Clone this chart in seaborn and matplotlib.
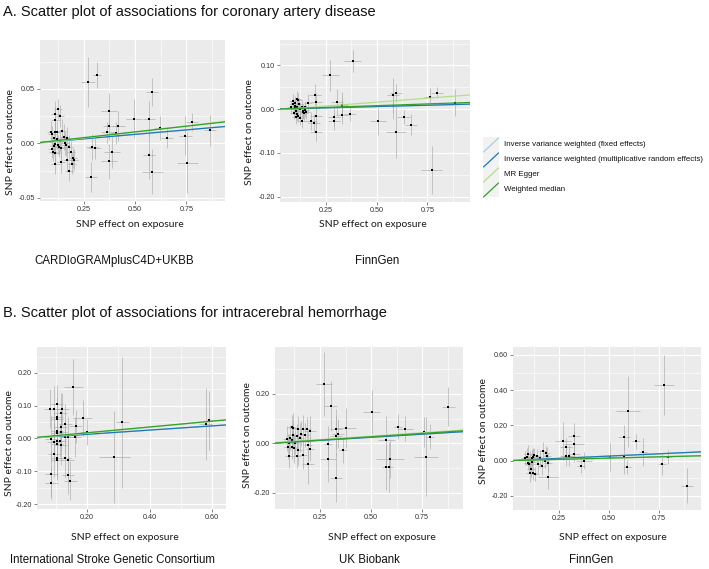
import matplotlib
matplotlib.use("Agg")
import matplotlib.pyplot as plt
from matplotlib.ticker import FormatStrFormatter, FixedLocator
from matplotlib.lines import Line2D
from matplotlib.patches import Rectangle
import pandas as pd
import seaborn as sns

# SNP rows: (exposure beta, outcome beta, exposure se, outcome se)
a1_snps = [
    (0.315, 0.063, 0.020, 0.012), (0.271, 0.056, 0.035, 0.023), (0.374, 0.030, 0.040, 0.016),
    (0.375, 0.0155, 0.030, 0.012), (0.366, 0.010, 0.030, 0.010), (0.419, 0.016, 0.030, 0.014),
    (0.406, 0.0096, 0.030, 0.010), (0.387, -0.008, 0.040, 0.015), (0.374, -0.0165, 0.040, 0.016),
    (0.290, -0.0035, 0.030, 0.012), (0.303, -0.0045, 0.030, 0.010), (0.287, -0.031, 0.030, 0.014),
    (0.495, 0.0227, 0.040, 0.018), (0.568, 0.0227, 0.030, 0.016), (0.584, 0.047, 0.030, 0.013),
    (0.568, -0.011, 0.030, 0.022), (0.584, -0.026, 0.050, 0.021), (0.623, 0.0143, 0.030, 0.011),
    (0.656, 0.005, 0.030, 0.009), (0.745, 0.007, 0.030, 0.018), (0.777, 0.0196, 0.030, 0.008),
    (0.755, -0.018, 0.050, 0.028), (0.866, 0.012, 0.030, 0.014),
    (0.092, 0.0106, 0.020, 0.010), (0.113, 0.0214, 0.020, 0.012), (0.113, 0.027, 0.020, 0.012),
    (0.124, 0.0317, 0.020, 0.009), (0.137, 0.0252, 0.020, 0.010), (0.097, 0.0084, 0.020, 0.008),
    (0.110, 0.0106, 0.020, 0.009), (0.121, 0.0106, 0.020, 0.010), (0.145, 0.0115, 0.020, 0.011),
    (0.105, 0.0047, 0.020, 0.008), (0.121, 0.0037, 0.020, 0.009), (0.134, 0.0022, 0.020, 0.010),
    (0.153, 0.0062, 0.020, 0.012), (0.169, 0.005, 0.020, 0.010), (0.161, 0.0006, 0.020, 0.011),
    (0.113, -0.0003, 0.020, 0.009), (0.097, -0.0056, 0.020, 0.008), (0.102, -0.0075, 0.020, 0.009),
    (0.113, -0.0093, 0.020, 0.010), (0.126, -0.0012, 0.020, 0.009), (0.140, -0.004, 0.020, 0.010),
    (0.165, -0.0019, 0.020, 0.010), (0.177, -0.0037, 0.020, 0.011), (0.189, -0.0081, 0.020, 0.010),
    (0.198, -0.0134, 0.020, 0.009), (0.205, -0.0149, 0.020, 0.010), (0.169, -0.0149, 0.020, 0.011),
    (0.140, -0.0174, 0.020, 0.010), (0.113, -0.019, 0.020, 0.009), (0.181, -0.0258, 0.020, 0.009),
    (0.194, -0.0186, 0.020, 0.010), (0.129, -0.0037, 0.020, 0.009), (0.105, -0.0025, 0.020, 0.008),
]

a2_snps = [
    (0.382, 0.111, 0.040, 0.025), (0.273, 0.077, 0.040, 0.035), (0.304, 0.017, 0.030, 0.030),
    (0.291, -0.018, 0.030, 0.020), (0.291, -0.028, 0.030, 0.020), (0.331, 0.009, 0.030, 0.030),
    (0.331, 0.005, 0.030, 0.020), (0.331, -0.014, 0.030, 0.020), (0.368, -0.0115, 0.030, 0.015),
    (0.196, 0.032, 0.030, 0.025), (0.204, 0.017, 0.030, 0.020), (0.204, -0.015, 0.030, 0.020),
    (0.204, -0.052, 0.030, 0.020), (0.191, -0.031, 0.030, 0.020), (0.176, -0.027, 0.030, 0.020),
    (0.163, 0.014, 0.020, 0.020), (0.508, -0.028, 0.040, 0.030), (0.581, 0.032, 0.030, 0.040),
    (0.594, 0.037, 0.030, 0.020), (0.579, 0.008, 0.030, 0.030), (0.597, -0.051, 0.050, 0.060),
    (0.633, -0.018, 0.030, 0.015), (0.669, -0.035, 0.030, 0.025), (0.762, 0.0285, 0.030, 0.020),
    (0.798, 0.038, 0.030, 0.012), (0.886, 0.015, 0.030, 0.030), (0.771, -0.139, 0.050, 0.055),
    (0.090, 0.019, 0.020, 0.015), (0.099, 0.015, 0.020, 0.015), (0.107, 0.023, 0.020, 0.018),
    (0.115, 0.021, 0.020, 0.015), (0.087, 0.011, 0.020, 0.014), (0.099, 0.008, 0.020, 0.016),
    (0.110, 0.004, 0.020, 0.015), (0.123, 0.000, 0.020, 0.016), (0.120, 0.011, 0.020, 0.015),
    (0.132, 0.005, 0.020, 0.015), (0.140, -0.004, 0.020, 0.016), (0.148, -0.002, 0.020, 0.015),
    (0.155, -0.006, 0.020, 0.016), (0.104, -0.004, 0.020, 0.015), (0.092, -0.008, 0.020, 0.015),
    (0.107, -0.012, 0.020, 0.016), (0.115, -0.015, 0.020, 0.015), (0.123, -0.021, 0.020, 0.015),
    (0.137, -0.006, 0.020, 0.016), (0.143, -0.009, 0.020, 0.015), (0.132, -0.027, 0.020, 0.016),
    (0.101, 0.002, 0.020, 0.015), (0.081, 0.004, 0.020, 0.014), (0.104, -0.019, 0.020, 0.015),
    (0.150, 0.004, 0.020, 0.015),
]

b1_snps = [
    (0.155, 0.156, 0.030, 0.085), (0.185, 0.062, 0.030, 0.055), (0.200, 0.019, 0.020, 0.040),
    (0.163, 0.037, 0.020, 0.050), (0.161, 0.005, 0.020, 0.060), (0.313, 0.049, 0.020, 0.200),
    (0.287, -0.057, 0.050, 0.140), (0.580, 0.043, 0.020, 0.110), (0.592, 0.055, 0.010, 0.090),
    (0.082, 0.091, 0.020, 0.060), (0.094, 0.089, 0.020, 0.070), (0.103, 0.104, 0.020, 0.060),
    (0.120, 0.089, 0.020, 0.050), (0.115, 0.078, 0.020, 0.060), (0.130, 0.044, 0.020, 0.060),
    (0.115, 0.034, 0.020, 0.050), (0.115, 0.019, 0.020, 0.060), (0.103, 0.024, 0.020, 0.070),
    (0.103, 0.018, 0.020, 0.060), (0.092, 0.008, 0.020, 0.080), (0.085, -0.002, 0.020, 0.070),
    (0.092, -0.012, 0.020, 0.060), (0.103, -0.018, 0.020, 0.070), (0.103, -0.009, 0.020, 0.060),
    (0.115, -0.020, 0.020, 0.060), (0.112, -0.007, 0.020, 0.050), (0.139, 0.005, 0.020, 0.060),
    (0.128, 0.005, 0.020, 0.050), (0.094, -0.048, 0.020, 0.070), (0.103, -0.061, 0.020, 0.060),
    (0.103, -0.067, 0.020, 0.060), (0.128, -0.061, 0.020, 0.060), (0.139, -0.067, 0.020, 0.070),
    (0.139, -0.110, 0.020, 0.060), (0.085, -0.108, 0.020, 0.070), (0.085, -0.136, 0.020, 0.050),
    (0.146, -0.129, 0.020, 0.060), (0.103, 0.067, 0.020, 0.060), (0.103, 0.060, 0.020, 0.050),
]

b2_snps = [
    (0.271, 0.240, 0.040, 0.130), (0.302, 0.151, 0.030, 0.100), (0.330, 0.058, 0.030, 0.080),
    (0.377, 0.062, 0.050, 0.080), (0.340, 0.040, 0.030, 0.060), (0.330, 0.030, 0.030, 0.080),
    (0.289, -0.001, 0.020, 0.070), (0.289, -0.064, 0.040, 0.090), (0.364, -0.028, 0.020, 0.050),
    (0.330, -0.138, 0.030, 0.100), (0.503, 0.128, 0.040, 0.090), (0.575, 0.012, 0.040, 0.100),
    (0.575, -0.097, 0.020, 0.090), (0.587, -0.095, 0.020, 0.100), (0.593, -0.061, 0.070, 0.080),
    (0.631, 0.068, 0.020, 0.050), (0.667, 0.059, 0.040, 0.050), (0.757, 0.045, 0.020, 0.060),
    (0.768, -0.053, 0.060, 0.160), (0.789, 0.028, 0.020, 0.050), (0.879, 0.149, 0.030, 0.080),
    (0.111, 0.065, 0.020, 0.050), (0.119, 0.062, 0.020, 0.060), (0.144, 0.059, 0.020, 0.050),
    (0.165, 0.057, 0.020, 0.060), (0.188, 0.057, 0.020, 0.050), (0.200, 0.049, 0.030, 0.060),
    (0.193, -0.007, 0.020, 0.060), (0.200, -0.022, 0.020, 0.050), (0.193, -0.084, 0.030, 0.080),
    (0.165, -0.045, 0.020, 0.060), (0.136, -0.049, 0.020, 0.050), (0.100, -0.051, 0.020, 0.050),
    (0.144, -0.027, 0.020, 0.060), (0.127, 0.003, 0.020, 0.050), (0.111, 0.0135, 0.020, 0.050),
    (0.103, 0.024, 0.020, 0.050), (0.095, -0.0135, 0.020, 0.050), (0.152, 0.024, 0.020, 0.060),
    (0.157, 0.040, 0.020, 0.050), (0.176, 0.034, 0.020, 0.050), (0.136, 0.030, 0.020, 0.050),
    (0.111, -0.0135, 0.020, 0.050), (0.123, -0.020, 0.020, 0.060), (0.100, 0.000, 0.020, 0.040),
    (0.090, 0.020, 0.020, 0.050), (0.118, 0.035, 0.020, 0.050),
]

b3_snps = [
    (0.775, 0.427, 0.050, 0.170), (0.593, 0.280, 0.060, 0.200), (0.575, 0.133, 0.030, 0.070),
    (0.633, 0.109, 0.020, 0.040), (0.668, 0.051, 0.020, 0.080), (0.575, 0.023, 0.020, 0.100),
    (0.588, -0.038, 0.020, 0.040), (0.503, 0.021, 0.030, 0.080), (0.763, -0.021, 0.020, 0.060),
    (0.795, 0.019, 0.020, 0.040), (0.888, -0.141, 0.030, 0.100), (0.327, 0.141, 0.030, 0.070),
    (0.327, 0.097, 0.050, 0.070), (0.285, 0.076, 0.030, 0.050), (0.268, 0.112, 0.040, 0.110),
    (0.285, 0.027, 0.030, 0.060), (0.300, 0.027, 0.030, 0.060), (0.327, 0.040, 0.030, 0.050),
    (0.375, 0.000, 0.040, 0.050), (0.362, -0.030, 0.020, 0.040), (0.193, -0.091, 0.050, 0.070),
    (0.097, 0.038, 0.020, 0.050), (0.088, 0.023, 0.020, 0.050), (0.080, 0.013, 0.020, 0.040),
    (0.105, 0.004, 0.020, 0.050), (0.113, -0.006, 0.020, 0.050), (0.093, -0.011, 0.020, 0.040),
    (0.102, -0.019, 0.020, 0.050), (0.108, -0.050, 0.020, 0.050), (0.118, -0.072, 0.020, 0.040),
    (0.105, -0.069, 0.020, 0.050), (0.130, -0.076, 0.020, 0.040), (0.122, 0.023, 0.020, 0.050),
    (0.138, 0.027, 0.020, 0.040), (0.155, 0.013, 0.020, 0.050), (0.172, 0.057, 0.020, 0.050),
    (0.185, 0.042, 0.020, 0.040), (0.192, 0.027, 0.020, 0.050), (0.197, -0.015, 0.020, 0.050),
    (0.180, -0.002, 0.020, 0.040), (0.147, -0.021, 0.020, 0.050), (0.163, -0.030, 0.020, 0.050),
    (0.125, 0.032, 0.020, 0.040), (0.113, 0.017, 0.020, 0.050),
]

# MR estimates per panel: (ivw fixed slope, ivw random slope, egger intercept, egger slope, wm slope)
a1_fits = (0.0165, 0.0165, -0.0008, 0.0225, 0.021)
a2_fits = (0.012, 0.012, -0.002, 0.036, 0.016)
b1_fits = (0.064, 0.064, -0.002, 0.091, 0.088)
b2_fits = (0.050, 0.050, 0.002, 0.055, 0.054)
b3_fits = (0.052, 0.052, 0.000, 0.028, 0.029)

methods = ["Inverse variance weighted (fixed effects)",
           "Inverse variance weighted (multiplicative random effects)",
           "MR Egger", "Weighted median"]
method_colors = ["#A6CEE3", "#1F78B4", "#B2DF8A", "#33A02C"]

sns.set_theme(style="darkgrid")
plt.rcParams["axes.facecolor"] = "#EBEBEB"
plt.rcParams["grid.color"] = "white"
plt.rcParams["font.family"] = ["Liberation Sans", "DejaVu Sans"]

W, H = 709, 569
fig = plt.figure(figsize=(W / 100, H / 100), dpi=100)
fig.patch.set_facecolor("white")


def px_axes(l, t, r, b):
    return fig.add_axes([l / W, 1 - b / H, (r - l) / W, (b - t) / H])


def panel(box, snps, fits, xlim, ylim, xticks, yticks):
    ax = px_axes(*box)
    df = pd.DataFrame(snps, columns=["bx", "by", "bxse", "byse"])
    ax.errorbar(df.bx, df.by, xerr=df.bxse, yerr=df.byse, fmt="none",
                ecolor="#AAAAAA", elinewidth=0.45, capsize=0, zorder=2)
    sns.scatterplot(data=df, x="bx", y="by", ax=ax, color="black", marker="s",
                    s=4, linewidth=0, zorder=3)
    ivw_f, ivw_r, eg_int, eg_slope, wm = fits
    ax.axline((0, 0), slope=ivw_f, color=method_colors[0], lw=0.9, zorder=4)
    ax.axline((0, 0), slope=ivw_r, color=method_colors[1], lw=0.9, zorder=4)
    ax.axline((0, eg_int), slope=eg_slope, color=method_colors[2], lw=0.9, zorder=4)
    ax.axline((0, 0), slope=wm, color=method_colors[3], lw=0.9, zorder=4)
    ax.set_xlim(*xlim)
    ax.set_ylim(*ylim)
    ax.set_xticks(xticks)
    ax.set_yticks(yticks)
    dx = xticks[1] - xticks[0]
    dy = yticks[1] - yticks[0]
    ax.xaxis.set_minor_locator(FixedLocator([xticks[0] - dx / 2] + [t + dx / 2 for t in xticks]))
    ax.yaxis.set_minor_locator(FixedLocator([yticks[0] - dy / 2] + [t + dy / 2 for t in yticks]))
    ax.xaxis.set_major_formatter(FormatStrFormatter("%.2f"))
    ax.yaxis.set_major_formatter(FormatStrFormatter("%.2f"))
    ax.grid(which="major", color="white", lw=0.8)
    ax.grid(which="minor", color="white", lw=0.4)
    ax.tick_params(which="major", length=2, width=0.5, color="#555555", pad=1.5,
                   labelsize=5.2, labelcolor="#333333", bottom=True, left=True)
    ax.tick_params(which="minor", length=0)
    ax.set_xlabel("")
    ax.set_ylabel("")
    for s in ax.spines.values():
        s.set_visible(False)
    return ax


panel((40, 40, 225, 201), a1_snps, a1_fits, (0.038, 0.9375), (-0.053, 0.095),
      [0.25, 0.50, 0.75], [-0.05, 0.00, 0.05])
panel((280, 40, 470, 202), a2_snps, a2_fits, (0.025, 0.96), (-0.212, 0.158),
      [0.25, 0.50, 0.75], [-0.20, -0.10, 0.00, 0.10])
panel((37, 347, 226, 509), b1_snps, b1_fits, (0.039, 0.645), (-0.215, 0.279),
      [0.20, 0.40, 0.60], [-0.20, -0.10, 0.00, 0.10, 0.20])
panel((275, 347, 463, 509), b2_snps, b2_fits, (0.03, 0.95), (-0.265, 0.39),
      [0.25, 0.50, 0.75], [-0.20, 0.00, 0.20])
panel((513, 347, 701, 510), b3_snps, b3_fits, (0.02, 0.96), (-0.28, 0.645),
      [0.25, 0.50, 0.75], [-0.20, 0.00, 0.20, 0.40, 0.60])

lab_font = dict(family=["Lato", "DejaVu Sans"], fontsize=7.5, color="#1a1a1a")


def ftext(x, y, s, **kw):
    fig.text(x / W, 1 - y / H, s, **kw)


# axis titles
for x, y in [(130, 225), (373, 225), (125, 537), (382, 537), (613, 537)]:
    ftext(x, y, "SNP effect on exposure", ha="center", va="center", **lab_font)
for x, y in [(11, 142), (250, 132), (10, 443), (247, 435), (483, 431)]:
    ftext(x, y, "SNP effect on outcome", ha="center", va="center", rotation=90, **lab_font)

# section titles
ftext(3, 12, "A. Scatter plot of associations for coronary artery disease",
      ha="left", va="center", fontsize=10.5, color="#111111")
ftext(3, 313, "B. Scatter plot of associations for intracerebral hemorrhage",
      ha="left", va="center", fontsize=10.5, color="#111111")

# data source labels
for x, y, s in [(114, 261, "CARDIoGRAMplusC4D+UKBB"), (377, 261, "FinnGen"),
                (112, 560, "International Stroke Genetic Consortium"),
                (369, 560, "UK Biobank"), (591, 560, "FinnGen")]:
    ftext(x, y, s, ha="center", va="center", fontsize=8.3, color="#111111")

# legend with ggplot-style abline keys
leg = px_axes(483, 137, 709, 198)
leg.set_xlim(0, 226)
leg.set_ylim(61, 0)
leg.axis("off")
for i, (name, col) in enumerate(zip(methods, method_colors)):
    yc = 8 + i * 15
    leg.add_patch(Rectangle((0, yc - 7.5), 16, 15, facecolor="#F2F2F2", edgecolor="none"))
    leg.add_line(Line2D([0.5, 15.5], [yc + 7, yc - 7], color=col, lw=0.9))
    leg.text(21, yc, name, ha="left", va="center", fontsize=5.7, color="#111111")

fig.savefig("out.png", dpi=100)
